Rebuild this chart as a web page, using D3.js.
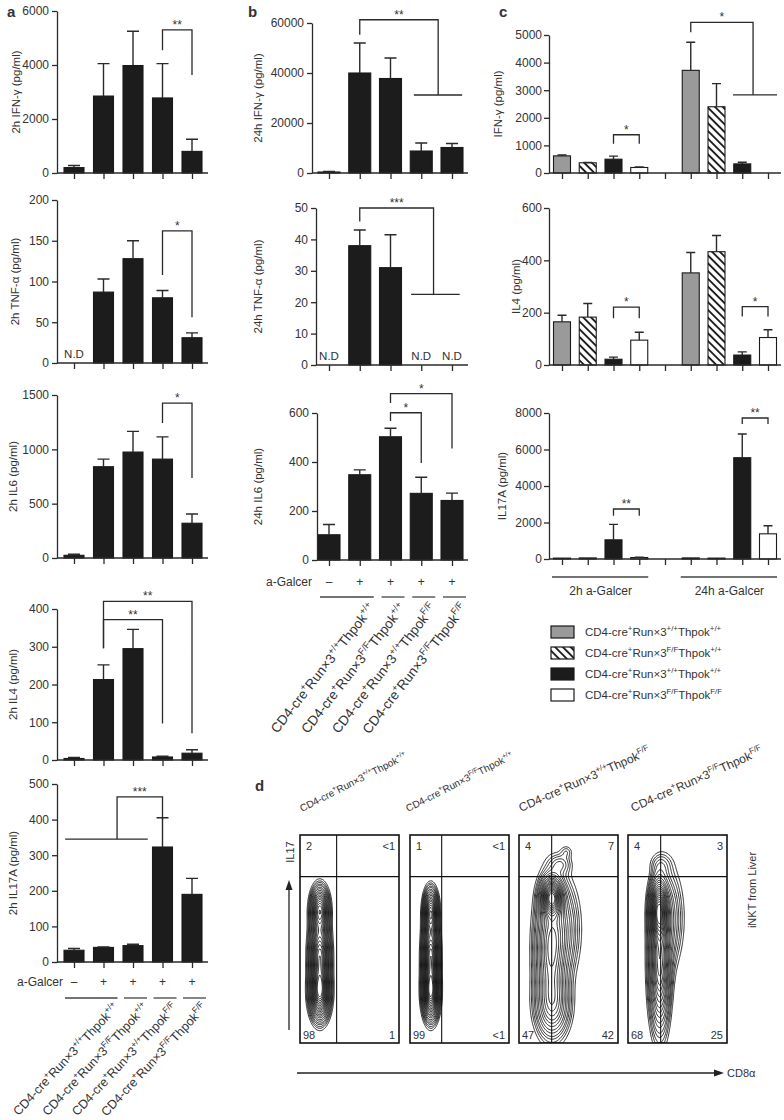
<!DOCTYPE html>
<html><head><meta charset="utf-8">
<script src="https://cdn.jsdelivr.net/npm/d3@7"></script>
<style>
body{margin:0;background:#fff}
svg{display:block}
text{font-family:'Liberation Sans',Arial,Helvetica,sans-serif;fill:#333}
</style>
</head><body>
<svg id="fig" width="784" height="1120"></svg>
<script>
// ================= DATA =================
const agalcer = ["–","+","+","+","+"];
const runx3Alleles = ["+/+","F/F","+/+","F/F"];
const thpokAlleles = ["+/+","+/+","F/F","F/F"];
const legendRunx3 = ["+/+","F/F","+/+","F/F"];
const legendThpok = ["+/+","+/+","+/+","F/F"];
const groupFirst = [0,2,3,4];
const groupLast  = [1,2,3,4];

// Panel a (2h)
const a_ifng_mean  = [200, 2850, 3980, 2780, 800];
const a_ifng_upper = [280, 4050, 5250, 4050, 1250];
const a_ifng_ticks = [0, 2000, 4000, 6000];
const a_tnf_mean   = [null, 87, 128, 80, 31];
const a_tnf_upper  = [null, 103, 150, 89, 37];
const a_tnf_ticks  = [0, 50, 100, 150, 200];
const a_il6_mean   = [25, 840, 975, 910, 320];
const a_il6_upper  = [35, 910, 1165, 1115, 405];
const a_il6_ticks  = [0, 500, 1000, 1500];
const a_il4_mean   = [4, 213, 295, 8, 18];
const a_il4_upper  = [7, 252, 346, 10, 27];
const a_il4_ticks  = [0, 100, 200, 300, 400];
const a_il17_mean  = [33, 41, 46, 323, 190];
const a_il17_upper = [38, 42, 50, 405, 235];
const a_il17_ticks = [0, 100, 200, 300, 400, 500];

// Panel b (24h)
const b_ifng_mean  = [400, 40000, 37800, 8800, 10200];
const b_ifng_upper = [600, 52000, 46000, 12000, 11800];
const b_ifng_ticks = [0, 20000, 40000, 60000];
const b_tnf_mean   = [null, 38, 31, null, null];
const b_tnf_upper  = [null, 43, 41.5, null, null];
const b_tnf_ticks  = [0, 10, 20, 30, 40, 50];
const b_il6_mean   = [103, 348, 503, 272, 243];
const b_il6_upper  = [145, 368, 538, 338, 273];
const b_il6_ticks  = [0, 200, 400, 600];

// Panel c (2h / 24h)
const c_ifng_2h        = [620, 370, 500, 200];
const c_ifng_2h_upper  = [650, 380, 610, 220];
const c_ifng_24h       = [3720, 2400, 330, null];
const c_ifng_24h_upper = [4740, 3240, 390, null];
const c_ifng_ticks     = [0, 1000, 2000, 3000, 4000, 5000];
const c_il4_2h         = [165, 183, 22, 95];
const c_il4_2h_upper   = [190, 235, 30, 125];
const c_il4_24h        = [352, 433, 38, 105];
const c_il4_24h_upper  = [430, 495, 50, 135];
const c_il4_ticks      = [0, 200, 400, 600];
const c_il17_2h        = [50, 60, 1050, 80];
const c_il17_2h_upper  = [null, null, 1900, 100];
const c_il17_24h       = [60, 50, 5550, 1380];
const c_il17_24h_upper = [null, null, 6850, 1820];
const c_il17_ticks     = [0, 2000, 4000, 6000, 8000];
const c_groups = ["2h a-Galcer", "24h a-Galcer"];

// Significance brackets (positions in bar-index / data units)
const a_ifng_sig = [{x1:3, x2:4, top:5300, y1:4550, y2:3630, label:"**"}];
const a_tnf_sig  = [{x1:3, x2:4, top:162, y1:108, y2:56, label:"*"}];
const a_il6_sig  = [{x1:3, x2:4, top:1426, y1:1242, y2:736, label:"*"}];
const a_il4_sig  = [{x1:1, x2:4, top:420, y1:296, y2:71, label:"**"},
                    {x1:1, x2:3, top:372, y1:296, y2:97, label:"**"}];
const a_il17_sig = [{x1:1.46, x2:3, top:464, y1:345, y2:399, groupL:[-0.3, 2.5], label:"***"}];
const b_ifng_sig = [{x1:1, x2:3.55, top:61300, y1:55350, y2:31200, groupR:[2.76, 4.33], label:"**"}];
const b_tnf_sig  = [{x1:1, x2:3.4, top:50, y1:45.7, y2:22.5, groupR:[2.67, 4.25], label:"***"}];
const b_il6_sig  = [{x1:2, x2:4, top:679, y1:641, y2:455, label:"*"},
                    {x1:2, x2:3, top:601, y1:567, y2:396, label:"*"}];
const c_ifng_sig = [{x1:2, x2:3, top:1386, y1:1060, y2:1060, label:"*"},
                    {x1:5, x2:7.42, top:5458, y1:5096, y2:2831, groupR:[6.64, 8.35], label:"*"}];
const c_il4_sig  = [{x1:2, x2:3, top:221, y1:179, y2:179, label:"*"},
                    {x1:7, x2:8, top:223, y1:185, y2:185, label:"*"}];
const c_il17_sig = [{x1:2, x2:3, top:2740, y1:2374, y2:2374, label:"**"},
                    {x1:7, x2:8, top:7726, y1:7397, y2:7397, label:"**"}];

// Panel d (flow cytometry quadrant percentages)
const flowUL = ["2", "1", "4", "4"];
const flowUR = ["<1", "<1", "7", "3"];
const flowLL = ["98", "99", "47", "68"];
const flowLR = ["1", "<1", "42", "25"];
const flowGateX = [37, 32, 33, 33];
const flowGateY = [80, 80, 80, 80];
// population components: [meanCD8, meanIL17, sdCD8, sdIL17, weight]
const flowPops = [
  [[20,24,5.5,7,1],[20,42,5.5,10,1],[20,64,5,6,0.8]],
  [[21,24,4.5,7,1],[21,42,4.5,10,1],[21,63,4,6,0.8]],
  [[33,70,6,5,1],[32,45,9,18,0.6],[34,18,10,9,0.35],[45,55,10,14,0.2],[42,86,7,3,0.1],[48,92,4,2,0.06]],
  [[31,64,5,8,1],[32,38,6,18,0.8],[40,60,9,14,0.25],[33,86,7,3.5,0.08]]
];
const contourLevels = [0.03,0.045,0.06,0.08,0.1,0.13,0.16,0.2,0.24,0.28,0.33,0.38,0.43,0.48,0.54,0.6,0.66,0.72,0.78,0.84,0.9];

// ================= LAYOUT =================
const FONT = "'Liberation Sans', Arial, Helvetica, sans-serif";
const INK = "#2a2a2a";
const svg = d3.select("#fig");
const defs = svg.append("defs");
const pat = defs.append("pattern").attr("id","hatch").attr("patternUnits","userSpaceOnUse")
  .attr("width",5.5).attr("height",5.5).attr("patternTransform","rotate(-45)");
pat.append("rect").attr("width",5.5).attr("height",5.5).attr("fill","#fff");
pat.append("line").attr("x1",1).attr("y1",-1).attr("x2",1).attr("y2",7).attr("stroke","#111").attr("stroke-width",1.8);

const BLACK = "#1c1c1c";
const cFills = ["#9a9a9a", "url(#hatch)", BLACK, "#ffffff"];

function makeBars(means, uppers, fills, offset) {
  return means.map((v, k) => ({i: k + (offset||0), v: v, e: uppers[k], fill: fills[k % fills.length]}));
}

function barChart(c) {
  const g = svg.append("g");
  const x = d3.scaleLinear().domain([0, c.n - 1]).range([c.first, c.last]);
  const y = d3.scaleLinear().domain([0, c.ymax]).range([c.y0, c.yTop]);
  const bars = c.bars;
  g.selectAll("rect").data(bars.filter(d => d.v != null)).join("rect")
    .attr("x", d => x(d.i) - c.barW/2).attr("y", d => y(d.v))
    .attr("width", c.barW).attr("height", d => Math.max(0, y(0) - y(d.v)))
    .attr("fill", d => d.fill).attr("stroke", "#1a1a1a").attr("stroke-width", 1.1);
  g.selectAll("path.err").data(bars.filter(d => d.v != null && d.e != null)).join("path")
    .attr("class","err")
    .attr("d", d => `M${x(d.i)},${y(d.v)}V${y(d.e)}M${x(d.i)-c.capW/2},${y(d.e)}H${x(d.i)+c.capW/2}`)
    .attr("stroke", INK).attr("stroke-width", 1.4).attr("fill","none");
  g.selectAll("text.nd").data(bars.filter(d => d.v == null && c.nd)).join("text")
    .attr("class","nd").attr("x", d => x(d.i)).attr("y", y(0) - 5)
    .attr("text-anchor","middle").attr("font-size", 11.5).text("N.D");
  // y axis
  const ya = g.append("g").attr("transform", `translate(${c.axisX},0)`)
    .call(d3.axisLeft(y).tickValues(c.ticks).tickFormat(d3.format("d")).tickSize(5).tickSizeOuter(0).tickPadding(c.pad || 3));
  ya.attr("font-family", FONT).attr("font-size", 12);
  ya.selectAll("path,line").attr("stroke", INK).attr("stroke-width", 1.3);
  ya.selectAll("text").attr("fill", "#333");
  // x axis
  g.append("line").attr("x1", c.axisX).attr("x2", c.axisEnd).attr("y1", y(0)).attr("y2", y(0))
    .attr("stroke", INK).attr("stroke-width", 1.3);
  const xa = g.append("g").attr("transform", `translate(0,${y(0)})`)
    .call(d3.axisBottom(x).tickValues(d3.range(c.n)).tickFormat("").tickSize(6).tickSizeOuter(0));
  xa.select(".domain").remove();
  xa.selectAll("line").attr("stroke", INK).attr("stroke-width", 1.3);
  // y label
  g.append("text").attr("transform", `translate(${c.labelX},${(c.y0 + c.yTop)/2}) rotate(-90)`)
    .attr("text-anchor","middle").attr("font-size", 11.5).text(c.label);
  // brackets
  (c.sig || []).forEach(b => {
    const xl = x(b.x1), xr = x(b.x2);
    g.append("path").attr("d", `M${xl},${y(b.y1)}V${y(b.top)}H${xr}V${y(b.y2)}`)
      .attr("fill","none").attr("stroke", INK).attr("stroke-width", 1.3);
    if (b.groupR) g.append("line").attr("x1", x(b.groupR[0])).attr("x2", x(b.groupR[1]))
      .attr("y1", y(b.y2)).attr("y2", y(b.y2)).attr("stroke", INK).attr("stroke-width", 1.3);
    if (b.groupL) g.append("line").attr("x1", x(b.groupL[0])).attr("x2", x(b.groupL[1]))
      .attr("y1", y(b.y1)).attr("y2", y(b.y1)).attr("stroke", INK).attr("stroke-width", 1.3);
    g.append("text").attr("x", (xl + xr)/2).attr("y", y(b.top) - 1).attr("text-anchor","middle")
      .attr("font-size", 12).text(b.label);
  });
  return {x, y, g};
}

function genoText(sel, runx, thpok, size) {
  const parts = [["CD4-cre",0],["+",1],["Run×3",0],[runx,1],["Thpok",0],[thpok,1]];
  const sh = size * 0.42;
  let prev = false;
  parts.forEach(([t, sup]) => {
    const ts = sel.append("tspan").text(t);
    if (sup) ts.attr("font-size", size * 0.68).attr("dy", prev ? 0 : -sh);
    else ts.attr("dy", prev ? sh : 0);
    prev = !!sup;
  });
}

function xFooter(x, rowY, lineY, labelEnd, anchorDy, angle, fs) {
  const g = svg.append("g");
  g.append("text").attr("x", labelEnd).attr("y", rowY + 4).attr("text-anchor","end").attr("font-size", 12).text("a-Galcer");
  g.selectAll("text.sign").data(agalcer).join("text").attr("class","sign")
    .attr("x", (d, i) => x(i)).attr("y", rowY + 4).attr("text-anchor","middle").attr("font-size", 12).text(d => d);
  groupFirst.forEach((f, k) => {
    const x1 = x(f) - 9, x2 = x(groupLast[k]) + 14;
    g.append("line").attr("x1", x1).attr("x2", x2).attr("y1", lineY).attr("y2", lineY)
      .attr("stroke", "#444").attr("stroke-width", 1.3);
    const t = g.append("text").attr("text-anchor","end").attr("font-size", fs)
      .attr("transform", `translate(${x2 + 2},${lineY + anchorDy}) rotate(${angle})`);
    genoText(t, runx3Alleles[k], thpokAlleles[k], fs);
  });
}

// panel letters
[["a",7,17],["b",248,17],["c",499,17],["d",255,791]].forEach(([t,x,y]) =>
  svg.append("text").attr("x",x).attr("y",y).attr("font-size",15).attr("font-weight","bold").attr("fill","#111").text(t));

// ---- Panel a ----
const A = {n:5, axisX:57, first:74, last:192, axisEnd:208, barW:20, capW:12, nd:true};
const aCharts = [
  {yTop:11,  y0:173, ymax:6000, ticks:a_ifng_ticks, m:a_ifng_mean, u:a_ifng_upper, label:"2h IFN-γ (pg/ml)", labelX:20, sig:a_ifng_sig},
  {yTop:200, y0:363, ymax:200,  ticks:a_tnf_ticks,  m:a_tnf_mean,  u:a_tnf_upper,  label:"2h TNF-α (pg/ml)", labelX:19, sig:a_tnf_sig},
  {yTop:395, y0:558, ymax:1500, ticks:a_il6_ticks,  m:a_il6_mean,  u:a_il6_upper,  label:"2h IL6 (pg/ml)",   labelX:17, sig:a_il6_sig},
  {yTop:609, y0:760, ymax:400,  ticks:a_il4_ticks,  m:a_il4_mean,  u:a_il4_upper,  label:"2h IL4 (pg/ml)",   labelX:17, sig:a_il4_sig},
  {yTop:784, y0:962, ymax:500,  ticks:a_il17_ticks, m:a_il17_mean, u:a_il17_upper, label:"2h IL17A (pg/ml)", labelX:17, sig:a_il17_sig}
];
let lastA;
aCharts.forEach(c => { lastA = barChart(Object.assign({}, A, c, {bars: makeBars(c.m, c.u, [BLACK])})); });
xFooter(lastA.x, 982, 998, 63, 10, -47, 12.5);

// ---- Panel b ----
const B = {n:5, first:329, last:452, axisEnd:468, barW:22, capW:12, nd:true};
const bCharts = [
  {axisX:312, yTop:23,  y0:173, ymax:60000, ticks:b_ifng_ticks, m:b_ifng_mean, u:b_ifng_upper, label:"24h IFN-γ (pg/ml)", labelX:262, sig:b_ifng_sig},
  {axisX:316, yTop:208, y0:365, ymax:50,    ticks:b_tnf_ticks,  m:b_tnf_mean,  u:b_tnf_upper,  label:"24h TNF-α (pg/ml)", labelX:262, sig:b_tnf_sig},
  {axisX:317, yTop:413, y0:560, ymax:600,   ticks:b_il6_ticks,  m:b_il6_mean,  u:b_il6_upper,  label:"24h IL6 (pg/ml)",   labelX:262, sig:b_il6_sig}
];
let lastB;
bCharts.forEach(c => { lastB = barChart(Object.assign({}, B, c, {bars: makeBars(c.m, c.u, [BLACK])})); });
xFooter(lastB.x, 582, 597, 312, 11, -52, 13.5);

// ---- Panel c ----
const C = {n:9, axisX:549, first:562, last:768, axisEnd:781, barW:17, capW:9, pad:2, nd:false};
const cCharts = [
  {yTop:35,  y0:173, ymax:5000, ticks:c_ifng_ticks, bars: makeBars(c_ifng_2h, c_ifng_2h_upper, cFills, 0).concat(makeBars(c_ifng_24h, c_ifng_24h_upper, cFills, 5)), label:"IFN-γ (pg/ml)", labelX:502, sig:c_ifng_sig},
  {yTop:208, y0:365, ymax:600,  ticks:c_il4_ticks,  bars: makeBars(c_il4_2h, c_il4_2h_upper, cFills, 0).concat(makeBars(c_il4_24h, c_il4_24h_upper, cFills, 5)), label:"IL4 (pg/ml)", labelX:520, sig:c_il4_sig},
  {yTop:413, y0:559, ymax:8000, ticks:c_il17_ticks, bars: makeBars(c_il17_2h, c_il17_2h_upper, cFills, 0).concat(makeBars(c_il17_24h, c_il17_24h_upper, cFills, 5)), label:"IL17A (pg/ml)", labelX:506, sig:c_il17_sig}
];
let lastC;
cCharts.forEach(c => { lastC = barChart(Object.assign({}, C, c)); });
// group lines and labels
[[0,3],[5,8]].forEach(([f,l], k) => {
  svg.append("line").attr("x1", lastC.x(f) - 10).attr("x2", lastC.x(l) + 9).attr("y1", 577).attr("y2", 577)
    .attr("stroke","#444").attr("stroke-width",1.3);
  svg.append("text").attr("x", (lastC.x(f) + lastC.x(l))/2).attr("y", 595).attr("text-anchor","middle")
    .attr("font-size",12).text(c_groups[k]);
});
// legend
const legY = [632, 653, 674, 695];
legY.forEach((yy, k) => {
  svg.append("rect").attr("x", 551).attr("y", yy - 6).attr("width", 23).attr("height", 12)
    .attr("fill", cFills[k]).attr("stroke", "#1a1a1a").attr("stroke-width", 1.2);
  const t = svg.append("text").attr("x", 585).attr("y", yy + 4).attr("font-size", 11.5);
  genoText(t, legendRunx3[k], legendThpok[k], 11.5);
});

// ---- Panel d ----
const boxX = [300, 410, 519, 628], boxW = 99, boxTop = 835, boxBottom = 1043;
const dLabels = [
  {x:302, y:812, a:-27, fs:10}, {x:408, y:812, a:-27, fs:10},
  {x:521, y:812, a:-24, fs:12},  {x:633, y:812, a:-24, fs:12}
];
dLabels.forEach((L, k) => {
  const t = svg.append("text").attr("font-size", L.fs).attr("transform", `translate(${L.x},${L.y}) rotate(${L.a})`);
  genoText(t, runx3Alleles[k], thpokAlleles[k], L.fs);
});
boxX.forEach((bx, k) => {
  const xs = d3.scaleLinear().domain([0,100]).range([bx, bx + boxW]);
  const ys = d3.scaleLinear().domain([0,100]).range([boxBottom, boxTop]);
  const g = svg.append("g");
  const clipId = "clip" + k;
  defs.append("clipPath").attr("id", clipId).append("rect")
    .attr("x", bx).attr("y", boxTop).attr("width", boxW).attr("height", boxBottom - boxTop);
  const nx = 120, ny = 220;
  const vals = new Float64Array(nx * ny);
  for (let j = 0; j < ny; j++) for (let i = 0; i < nx; i++) {
    const u = (i + 0.5) * 100 / nx, v = 100 - (j + 0.5) * 100 / ny;
    let s = 0;
    flowPops[k].forEach(([mx, my, sx, sy, w]) => {
      s += w * Math.exp(-0.5 * (((u - mx)/sx) ** 2 + ((v - my)/sy) ** 2));
    });
    vals[j * nx + i] = s;
  }
  const mx = d3.max(vals);
  const cs = d3.contours().size([nx, ny]).thresholds(contourLevels.map(t => t * mx))(vals);
  const proj = d3.geoTransform({point(px, py) { this.stream.point(xs(px * 100 / nx), ys(100 - py * 100 / ny)); }});
  const path = d3.geoPath(proj);
  g.append("g").attr("clip-path", `url(#${clipId})`).selectAll("path").data(cs).join("path")
    .attr("d", path).attr("fill", "none").attr("stroke", "#111").attr("stroke-width", 0.9);
  // gates
  g.append("line").attr("x1", xs(flowGateX[k])).attr("x2", xs(flowGateX[k])).attr("y1", boxTop).attr("y2", boxBottom)
    .attr("stroke", "#111").attr("stroke-width", 1.1);
  g.append("line").attr("x1", bx).attr("x2", bx + boxW).attr("y1", ys(flowGateY[k])).attr("y2", ys(flowGateY[k]))
    .attr("stroke", "#111").attr("stroke-width", 1.1);
  g.append("rect").attr("x", bx).attr("y", boxTop).attr("width", boxW).attr("height", boxBottom - boxTop)
    .attr("fill", "none").attr("stroke", "#111").attr("stroke-width", 1.6);
  const fs = 11;
  g.append("text").attr("x", bx + 6).attr("y", boxTop + 15).attr("font-size", fs).text(flowUL[k]);
  g.append("text").attr("x", bx + boxW - 4).attr("y", boxTop + 15).attr("font-size", fs).attr("text-anchor","end").text(flowUR[k]);
  g.append("text").attr("x", bx + 3).attr("y", boxBottom - 4).attr("font-size", fs).text(flowLL[k]);
  g.append("text").attr("x", bx + boxW - 4).attr("y", boxBottom - 4).attr("font-size", fs).attr("text-anchor","end").text(flowLR[k]);
});
// axis arrows
svg.append("text").attr("transform", "translate(294,852) rotate(-90)").attr("text-anchor","middle").attr("font-size",11).text("IL17");
svg.append("line").attr("x1",289).attr("x2",289).attr("y1",1030).attr("y2",888).attr("stroke","#222").attr("stroke-width",1.3);
svg.append("path").attr("d","M289,880 L285.5,890 L292.5,890 Z").attr("fill","#222");
svg.append("line").attr("x1",297).attr("x2",716).attr("y1",1073).attr("y2",1073).attr("stroke","#222").attr("stroke-width",1.3);
svg.append("path").attr("d","M724,1073 L714,1069.5 L714,1076.5 Z").attr("fill","#222");
svg.append("text").attr("x",727).attr("y",1077).attr("font-size",11).text("CD8α");
svg.append("text").attr("transform","translate(756,890) rotate(-90)").attr("text-anchor","middle").attr("font-size",11).text("iNKT from Liver");
</script>
</body></html>
